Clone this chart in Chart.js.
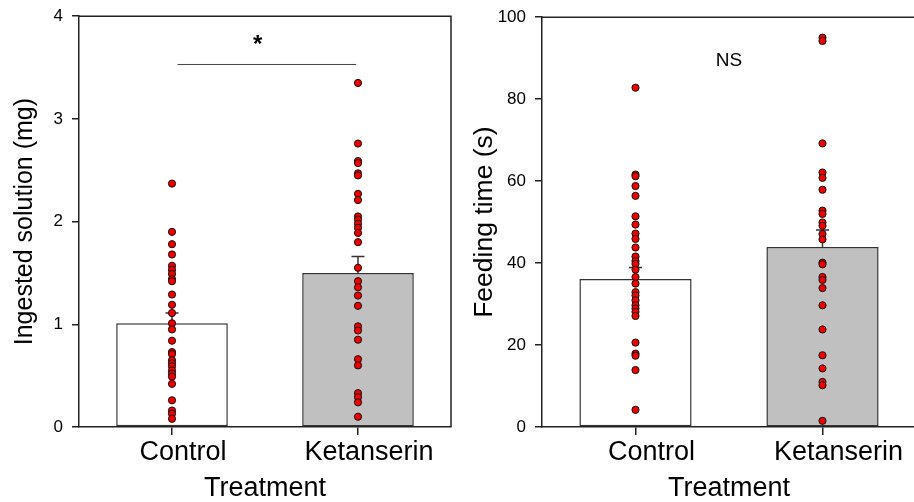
<!DOCTYPE html>
<html>
<head>
<meta charset="utf-8">
<script src="https://cdn.jsdelivr.net/npm/chart.js@4.4.0/dist/chart.umd.min.js"></script>
<style>
  html, body { margin: 0; padding: 0; background: #fff; overflow: hidden; width: 914px; height: 502px; }
  #left { position: absolute; left: 0; top: -3px; }
  #right { position: absolute; left: 457px; top: -2px; }
</style>
</head>
<body>
<canvas id="left" width="460" height="505"></canvas>
<canvas id="right" width="470" height="504"></canvas>
<script>
// Categories
const categories = ['Control', 'Ketanserin'];

// Ingested solution (mg) - individual points
const ingestedControl = [2.37, 1.90, 1.78, 1.68, 1.57, 1.53, 1.49, 1.44, 1.42, 1.29, 1.19, 1.11, 1.01, 0.95,
  0.84, 0.73, 0.71, 0.65, 0.62, 0.59, 0.55, 0.52, 0.49, 0.42, 0.26, 0.16, 0.13, 0.08];
const ingestedKetanserin = [3.35, 2.76, 2.59, 2.57, 2.47, 2.45, 2.27, 2.21, 2.05, 2.02, 1.98, 1.94, 1.89, 1.80,
  1.55, 1.42, 1.36, 1.28, 1.18, 0.98, 0.94, 0.85, 0.66, 0.60, 0.33, 0.29, 0.24, 0.10];
const ingestedMean = [1.01, 1.50];
const ingestedSE = [0.10, 0.16];

// Feeding time (s) - individual points
const feedingControl = [82.8, 61.6, 61.2, 58.8, 56.4, 51.4, 49.4, 47.2, 45.9, 43.8, 41.6, 40.5, 39.8, 38.4,
  36.6, 35.0, 32.9, 32.1, 30.9, 29.7, 28.9, 28.1, 27.1, 20.6, 17.9, 17.4, 13.9, 4.2];
const feedingKetanserin = [95.0, 94.2, 69.2, 62.1, 60.8, 57.9, 52.8, 52.0, 49.9, 49.1, 47.1, 45.8, 40.1, 39.7,
  36.6, 35.9, 33.9, 29.7, 23.8, 17.5, 14.3, 11.0, 10.2, 1.5];
const feedingMean = [36.1, 43.9];
const feedingSE = [2.8, 4.2];

const FONT = 'Liberation Sans, Arial, sans-serif';
const INK = '#222';

// Upper error bar (stem + cap) drawn on top of each bar
const errorBarPlugin = {
  id: 'errorBars',
  afterDatasetDraw(chart, args, opts) {
    if (args.meta.type !== 'bar') return;
    const { ctx } = chart;
    const x = chart.scales.x, y = chart.scales.y;
    ctx.save();
    ctx.strokeStyle = '#333';
    ctx.lineWidth = 1.5;
    opts.means.forEach((m, i) => {
      const px = x.getPixelForValue(i);
      const base = y.getPixelForValue(m);
      const top = y.getPixelForValue(m + opts.se[i]);
      ctx.beginPath();
      ctx.moveTo(px, base);
      ctx.lineTo(px, top);
      ctx.moveTo(px - 6.5, top);
      ctx.lineTo(px + 6.5, top);
      ctx.stroke();
    });
    ctx.restore();
  }
};

// Top and right frame lines + significance marker
const framePlugin = {
  id: 'frame',
  afterDraw(chart, args, opts) {
    const { ctx, chartArea: a } = chart;
    const x = chart.scales.x, y = chart.scales.y;
    ctx.save();
    ctx.strokeStyle = INK;
    ctx.lineWidth = 1.5;
    ctx.beginPath();
    ctx.moveTo(a.left, a.top);
    ctx.lineTo(a.right, a.top);
    ctx.lineTo(a.right, a.bottom);
    ctx.stroke();

    if (opts.line) {
      ctx.strokeStyle = '#444';
      ctx.lineWidth = 1;
      const ly = y.getPixelForValue(opts.line.y);
      ctx.beginPath();
      ctx.moveTo(x.getPixelForValue(opts.line.from), ly);
      ctx.lineTo(x.getPixelForValue(opts.line.to), ly);
      ctx.stroke();
    }
    if (opts.label) {
      ctx.fillStyle = '#000';
      ctx.font = opts.label.font;
      ctx.textAlign = 'center';
      ctx.textBaseline = 'middle';
      ctx.fillText(opts.label.text, x.getPixelForValue(opts.label.x), y.getPixelForValue(opts.label.y));
    }
    ctx.restore();
  }
};

function makeChart(canvasId, cfg) {
  const pts = (vals, cat) => vals.map(v => ({ x: cat, y: v }));
  return new Chart(document.getElementById(canvasId), {
    data: {
      labels: categories,
      datasets: [
        {
          type: 'scatter',
          data: pts(cfg.control, categories[0]).concat(pts(cfg.ketanserin, categories[1])),
          pointRadius: 3.6,
          pointBackgroundColor: '#f00000',
          pointBorderColor: '#111',
          pointBorderWidth: 1,
          order: 0
        },
        {
          type: 'bar',
          data: cfg.means,
          backgroundColor: ['#ffffff', '#c0c0c0'],
          borderColor: '#333',
          borderWidth: 1.5,
          borderSkipped: false,
          barPercentage: 0.6,
          categoryPercentage: 1,
          order: 1
        }
      ]
    },
    plugins: [errorBarPlugin, framePlugin],
    options: {
      responsive: false,
      animation: false,
      devicePixelRatio: 1,
      layout: { padding: { top: 12, right: cfg.padRight, left: 0, bottom: 0 } },
      plugins: {
        legend: { display: false },
        tooltip: { enabled: false },
        errorBars: { means: cfg.means, se: cfg.se },
        frame: { line: cfg.sigLine, label: cfg.sigLabel }
      },
      scales: {
        x: {
          type: 'category',
          offset: true,
          grid: { display: true, offset: false, drawOnChartArea: false, drawTicks: true, tickLength: 8, color: INK, lineWidth: 1.5 },
          border: { display: true, color: INK, width: 1.5 },
          ticks: { color: '#000', padding: 1, labelOffset: cfg.labelShift, font: { family: FONT, size: 27 } },
          title: { display: true, text: 'Treatment', color: '#000', padding: 0, font: { family: FONT, size: 27, lineHeight: 1 } },
          afterFit(s) { s.height = 75; }
        },
        y: {
          min: 0,
          max: cfg.max,
          ticks: { stepSize: cfg.step, color: '#000', padding: 9, font: { family: FONT, size: 17 } },
          grid: { display: true, drawOnChartArea: false, drawTicks: true, tickLength: 7, color: INK, lineWidth: 1.5 },
          border: { display: true, color: INK, width: 1.5 },
          title: { display: true, text: cfg.yTitle, color: '#000', padding: { top: cfg.titlePad, bottom: 0 }, font: { family: FONT, size: cfg.yTitleSize, lineHeight: 1.2 } },
          afterFit(s) { s.width = cfg.yWidth; }
        }
      }
    }
  });
}

makeChart('left', {
  control: ingestedControl,
  ketanserin: ingestedKetanserin,
  means: ingestedMean,
  se: ingestedSE,
  max: 4,
  step: 1,
  yTitle: 'Ingested solution (mg)',
  yTitleSize: 25,
  titlePad: 10,
  yWidth: 79,
  padRight: 9,
  labelShift: 11,
  sigLine: { from: 0.03, to: 0.99, y: 3.53 },
  sigLabel: { text: '*', x: 0.46, y: 3.72, font: 'bold 24px ' + FONT }
});

makeChart('right', {
  control: feedingControl,
  ketanserin: feedingKetanserin,
  means: feedingMean,
  se: feedingSE,
  max: 100,
  step: 20,
  yTitle: 'Feeding time (s)',
  yTitleSize: 26.5,
  titlePad: 12,
  yWidth: 85,
  padRight: 11,
  labelShift: 16,
  sigLine: null,
  sigLabel: { text: 'NS', x: 0.5, y: 89.3, font: '19px ' + FONT }
});
</script>
</body>
</html>
